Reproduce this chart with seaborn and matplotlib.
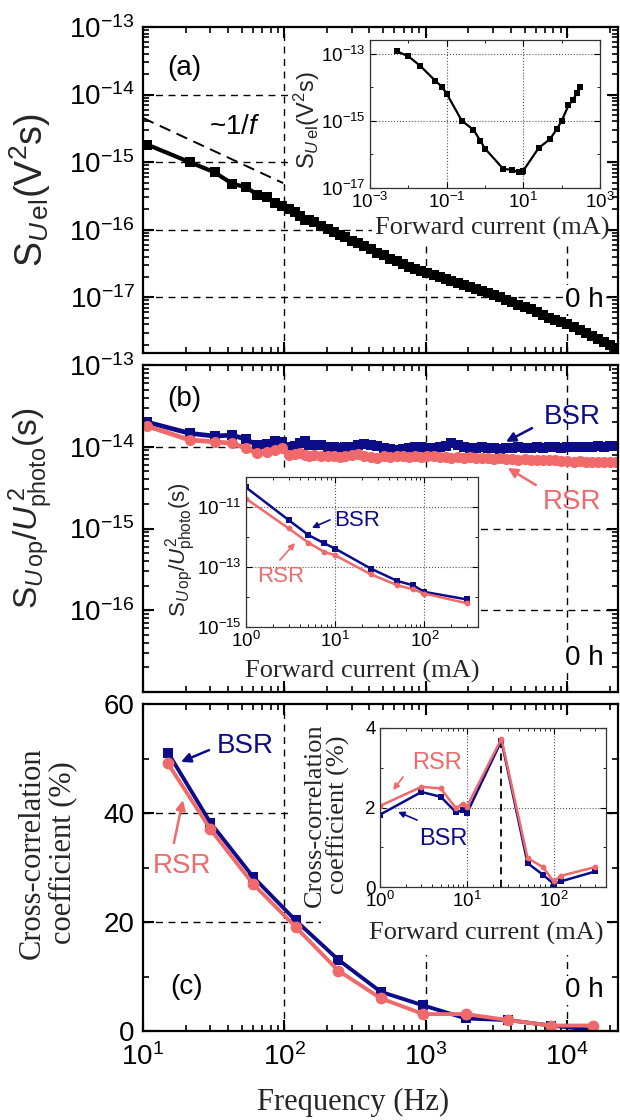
import numpy as np
import matplotlib
matplotlib.use("Agg")
import matplotlib.pyplot as plt
import seaborn as sns
from matplotlib.patches import Rectangle
from matplotlib.ticker import LogLocator, MultipleLocator, FuncFormatter, NullFormatter, FixedLocator

# ---------------- data ----------------
# noise spectra, frequency grid (Hz)
freq_hz = [10.7, 21.4, 32.1, 42.8, 53.5, 64.2, 74.9, 85.6, 96.3, 107,
           118, 128, 139, 150, 161, 182, 203, 225, 246, 268,
           300, 332, 364, 407, 450, 503, 557, 621, 685, 760,
           845, 931, 1028, 1135, 1253, 1381, 1520, 1680, 1852, 2044,
           2258, 2494, 2751, 3040, 3361, 3714, 4100, 4529, 5000, 5524,
           6102, 6744, 7451, 8232, 9098, 10050, 11100, 12260, 13550, 14970,
           16530, 18260, 20170, 22280]

# (a) electrical noise S_Uel (V^2 s)
s_uel = [1.82e-15, 1.00e-15, 7.08e-16, 4.79e-16, 4.27e-16, 3.31e-16, 3.02e-16, 2.45e-16, 2.21e-16, 2.04e-16,
         1.82e-16, 1.62e-16, 1.38e-16, 1.38e-16, 1.29e-16, 1.12e-16, 1.02e-16, 9.12e-17, 8.32e-17, 7.76e-17,
         6.92e-17, 6.31e-17, 5.75e-17, 5.13e-17, 4.57e-17, 4.17e-17, 3.72e-17, 3.39e-17, 3.09e-17, 2.82e-17,
         2.63e-17, 2.45e-17, 2.29e-17, 2.14e-17, 2.00e-17, 1.86e-17, 1.74e-17, 1.62e-17, 1.51e-17, 1.41e-17,
         1.32e-17, 1.23e-17, 1.15e-17, 1.07e-17, 1.00e-17, 9.12e-18, 8.51e-18, 7.76e-18, 7.24e-18, 6.61e-18,
         6.03e-18, 5.50e-18, 5.01e-18, 4.57e-18, 4.27e-18, 3.98e-18, 3.63e-18, 3.31e-18, 2.95e-18, 2.69e-18,
         2.40e-18, 2.19e-18, 1.95e-18, 1.78e-18]

# "~1/f" guide
guide_freq_hz = [10.0, 98.0]
guide_s = [4.5e-15, 4.9e-16]

# (b) normalised optical noise S_Uop / U_photo^2 (s)
s_op_bsr = [2.00e-14, 1.46e-14, 1.35e-14, 1.39e-14, 1.23e-14, 1.05e-14, 1.08e-14, 1.17e-14, 1.15e-14, 1.00e-14,
            1.02e-14, 1.12e-14, 1.17e-14, 1.05e-14, 1.04e-14, 1.05e-14, 9.9e-15, 9.8e-15, 9.6e-15, 9.8e-15,
            1.00e-14, 1.04e-14, 1.08e-14, 1.04e-14, 1.02e-14, 9.7e-15, 9.3e-15, 9.1e-15, 9.5e-15, 9.6e-15,
            9.8e-15, 1.00e-14, 9.7e-15, 9.6e-15, 9.8e-15, 1.02e-14, 1.10e-14, 1.05e-14, 9.8e-15, 9.6e-15,
            9.7e-15, 9.8e-15, 9.6e-15, 9.7e-15, 9.5e-15, 9.7e-15, 9.6e-15, 9.8e-15, 9.7e-15, 9.6e-15,
            9.8e-15, 9.7e-15, 9.9e-15, 9.8e-15, 9.7e-15, 9.9e-15, 1.00e-14, 9.8e-15, 9.9e-15, 1.00e-14,
            1.01e-14, 1.00e-14, 1.02e-14, 1.01e-14]
s_op_rsr = [1.79e-14, 1.21e-14, 1.15e-14, 1.10e-14, 9.6e-15, 8.3e-15, 8.7e-15, 9.1e-15, 9.6e-15, 7.9e-15,
            8.2e-15, 8.3e-15, 8.0e-15, 7.8e-15, 7.9e-15, 7.6e-15, 7.8e-15, 7.7e-15, 7.5e-15, 7.7e-15,
            7.9e-15, 8.1e-15, 7.6e-15, 7.5e-15, 7.3e-15, 7.6e-15, 7.4e-15, 7.7e-15, 7.6e-15, 7.5e-15,
            7.6e-15, 7.5e-15, 7.7e-15, 7.6e-15, 7.4e-15, 7.5e-15, 7.3e-15, 7.4e-15, 7.3e-15, 7.4e-15,
            7.2e-15, 7.3e-15, 7.2e-15, 7.1e-15, 7.2e-15, 7.0e-15, 7.1e-15, 6.9e-15, 7.0e-15, 6.9e-15,
            6.8e-15, 6.9e-15, 6.8e-15, 6.8e-15, 6.7e-15, 6.7e-15, 6.6e-15, 6.7e-15, 6.6e-15, 6.6e-15,
            6.5e-15, 6.6e-15, 6.5e-15, 6.5e-15]

# (c) cross-correlation coefficient (%)
cc_freq_hz = [15, 30, 60, 120, 240, 480, 960, 1920, 3840, 7680, 15360]
cc_bsr = [51.1, 38.2, 28.3, 20.3, 13.1, 7.2, 4.7, 2.3, 2.0, 1.0, 0.2]
cc_rsr = [49.1, 37.0, 27.0, 19.1, 11.1, 6.0, 3.1, 3.1, 2.0, 1.0, 1.0]

# inset (a): S_Uel vs forward current
ins_a_current_ma = [0.005, 0.01, 0.02, 0.05, 0.075, 0.1, 0.25, 0.5, 0.75, 1, 3, 5, 7.5, 9, 10,
                    25, 50, 75, 100, 150, 200, 250, 300]
ins_a_s_uel = [1.2e-13, 8.5e-14, 4.5e-14, 1.6e-14, 1.05e-14, 6.5e-15, 1.0e-15, 5.5e-16, 2.6e-16, 1.5e-16,
               3.7e-17, 3.5e-17, 2.95e-17, 3.1e-17, 3.3e-17, 1.55e-16, 2.9e-16, 5.75e-16, 1.0e-15,
               2.9e-15, 4.3e-15, 6.9e-15, 1.0e-14]

# inset (b): S_Uop/U_photo^2 vs forward current
ins_b_current_ma = [1, 3, 5, 7.5, 10, 25, 50, 75, 100, 300]
ins_b_bsr = [4.5e-11, 3.7e-12, 1.17e-12, 6.2e-13, 4.1e-13, 8.9e-14, 3.4e-14, 2.45e-14, 1.48e-14, 8.3e-15]
ins_b_rsr = [1.9e-11, 1.95e-12, 6.5e-13, 3.2e-13, 2.45e-13, 5.75e-14, 2.45e-14, 1.8e-14, 1.3e-14, 6.2e-15]

# inset (c): cross-correlation vs forward current
ins_c_current_ma = [1, 3, 5, 7.5, 9, 10, 25, 50, 75, 100, 120, 300]
ins_c_bsr = [1.82, 2.39, 2.27, 1.88, 1.93, 1.85, 3.68, 0.60, 0.31, 0.08, 0.14, 0.39]
ins_c_rsr = [2.04, 2.52, 2.48, 1.98, 2.10, 2.02, 3.73, 0.73, 0.50, 0.14, 0.28, 0.50]

# ---------------- style ----------------
BSR_COLOR = "#0c0c88"
RSR_COLOR = "#f0696b"
SERIF = ["Liberation Serif", "DejaVu Serif"]

sns.set_theme(style="ticks")
plt.rcParams.update({
    "font.family": ["Liberation Sans", "DejaVu Sans"],
    "mathtext.fontset": "custom",
    "mathtext.rm": "Liberation Sans",
    "mathtext.it": "Liberation Sans:italic",
    "mathtext.bf": "Liberation Sans:bold",
    "axes.edgecolor": "black",
    "axes.linewidth": 1.6,
    "axes.axisbelow": "line",
    "xtick.color": "black",
    "ytick.color": "black",
    "text.color": "black",
})

W, H = 620, 1120
fig = plt.figure(figsize=(W / 100, H / 100), dpi=100)


def frame(l, t, r, b):
    return [l / W, 1 - b / H, (r - l) / W, (b - t) / H]


def decade_label(v, pos):
    return r"$\mathdefault{10^{%d}}$" % int(round(np.log10(v)))


ax_a = fig.add_axes(frame(143, 27, 618, 353))
ax_b = fig.add_axes(frame(143, 365, 618, 692))
ax_c = fig.add_axes(frame(143, 704, 618, 1031))
in_a = fig.add_axes(frame(370, 40, 600, 188))
in_b = fig.add_axes(frame(246, 477, 478, 627))
in_c = fig.add_axes(frame(380, 728, 606, 887))

F_LO, F_HI = 10, 2.29e4


def style_main(ax):
    ax.set_xscale("log")
    ax.set_xlim(F_LO, F_HI)
    ax.xaxis.set_major_locator(LogLocator(base=10, numticks=20))
    ax.xaxis.set_minor_locator(LogLocator(base=10, subs=np.arange(2, 10), numticks=100))
    ax.xaxis.set_minor_formatter(NullFormatter())
    ax.tick_params(which="both", direction="in", top=True, right=True, labelsize=20, pad=6)
    ax.tick_params(which="major", length=8, width=1.5)
    ax.tick_params(which="minor", length=4, width=1.2)
    for s in ax.spines.values():
        s.set_linewidth(1.6)
    ax.set_xlabel("")
    ax.set_ylabel("")


def blank(ax, boxes):
    for (l, t, r, b) in boxes:
        ax.add_patch(Rectangle((l / W, 1 - b / H), (r - l) / W, (b - t) / H,
                               transform=fig.transFigure, facecolor="white",
                               edgecolor="none", zorder=1.0))


def dashed_grid(ax, xs, ys):
    for x in xs:
        ax.axvline(x, color="black", lw=1.0, ls=(0, (5, 4)), zorder=0.8)
    for y in ys:
        ax.axhline(y, color="black", lw=1.0, ls=(0, (5, 4)), zorder=0.8)


def tag(ax, x, y, s, size=20, **kw):
    ax.text(x, y, s, transform=ax.transAxes, ha="center", va="center", fontsize=size, **kw)


def arrow(ax, start, tip, color, lw=1.8, scale=14):
    ax.annotate("", xy=tip, xytext=start, xycoords="axes fraction", textcoords="axes fraction",
                arrowprops=dict(arrowstyle="-|>", color=color, lw=lw, mutation_scale=scale,
                                shrinkA=0, shrinkB=0))


# ---------------- panel (a) ----------------
style_main(ax_a)
ax_a.set_yscale("log")
ax_a.set_ylim(1.5e-18, 1e-13)
ax_a.yaxis.set_major_locator(LogLocator(base=10, numticks=20))
ax_a.yaxis.set_minor_locator(LogLocator(base=10, subs=np.arange(2, 10), numticks=100))
ax_a.yaxis.set_major_formatter(FuncFormatter(decade_label))
ax_a.yaxis.set_minor_formatter(NullFormatter())
ax_a.tick_params(labelbottom=False)
sns.lineplot(x=freq_hz, y=s_uel, ax=ax_a, color="black", lw=3.0, marker="s", markersize=7,
             markeredgewidth=0, zorder=2)
ax_a.plot(guide_freq_hz, guide_s, color="black", lw=1.4, ls=(0, (6, 3.5)), zorder=2)
dashed_grid(ax_a, [1e2, 1e3, 1e4], [1e-14, 1e-15, 1e-16, 1e-17])
blank(ax_a, [(288, 36, 609, 213), (372, 213, 609, 244)])
ax_a.set_ylabel(r"S$_{\mathit{U}\,\mathrm{el}}$(V$^2$s)", fontsize=27)
ax_a.yaxis.set_label_coords(-0.19, 0.5)
tag(ax_a, 0.088, 0.874, "(a)")
tag(ax_a, 0.194, 0.693, r"~1/$\mathit{f}$")
tag(ax_a, 0.930, 0.163, "0 h", zorder=1.2,
    bbox=dict(facecolor="white", edgecolor="none", pad=1))

# ---------------- panel (b) ----------------
style_main(ax_b)
ax_b.set_yscale("log")
ax_b.set_ylim(1e-17, 1e-13)
ax_b.yaxis.set_major_locator(LogLocator(base=10, numticks=20))
ax_b.yaxis.set_minor_locator(LogLocator(base=10, subs=np.arange(2, 10), numticks=100))
ax_b.yaxis.set_major_formatter(FuncFormatter(lambda v, p: "" if v < 1.5e-17 else decade_label(v, p)))
ax_b.yaxis.set_minor_formatter(NullFormatter())
ax_b.tick_params(labelbottom=False)
sns.lineplot(x=freq_hz, y=s_op_bsr, ax=ax_b, color=BSR_COLOR, lw=3.4, marker="s", markersize=7,
             markeredgewidth=0, zorder=2)
sns.lineplot(x=freq_hz, y=s_op_rsr, ax=ax_b, color=RSR_COLOR, lw=3.4, marker="o", markersize=8,
             markeredgewidth=0, zorder=2.1)
dashed_grid(ax_b, [1e2, 1e3, 1e4], [1e-14, 1e-15, 1e-16])
blank(ax_b, [(153, 470, 480, 683)])
ax_b.set_ylabel(r"S$_{\mathit{U}\,\mathrm{op}}$/$\mathit{U}^{\,2}_{\mathrm{photo}}$(s)", fontsize=24)
ax_b.yaxis.set_label_coords(-0.185, 0.563)
tag(ax_b, 0.903, 0.841, "BSR", color=BSR_COLOR)
tag(ax_b, 0.903, 0.581, "RSR", color=RSR_COLOR)
tag(ax_b, 0.088, 0.896, "(b)")
arrow(ax_b, (0.819, 0.807), (0.764, 0.765), BSR_COLOR)
arrow(ax_b, (0.827, 0.633), (0.768, 0.685), RSR_COLOR)
tag(ax_b, 0.930, 0.104, "0 h", zorder=1.2,
    bbox=dict(facecolor="white", edgecolor="none", pad=1))

# ---------------- panel (c) ----------------
style_main(ax_c)
ax_c.set_ylim(0, 60)
ax_c.yaxis.set_major_locator(MultipleLocator(20))
ax_c.yaxis.set_minor_locator(MultipleLocator(10))
ax_c.xaxis.set_major_formatter(FuncFormatter(decade_label))
ax_c.tick_params(axis="x", pad=9)
sns.lineplot(x=cc_freq_hz, y=cc_bsr, ax=ax_c, color=BSR_COLOR, lw=2.8, marker="s", markersize=7.5,
             markeredgewidth=0, zorder=2)
sns.lineplot(x=cc_freq_hz, y=cc_rsr, ax=ax_c, color=RSR_COLOR, lw=2.8, marker="o", markersize=8.5,
             markeredgewidth=0, zorder=2.1)
dashed_grid(ax_c, [1e2, 1e3, 1e4], [20, 40])
blank(ax_c, [(288, 713, 609, 900), (321, 900, 609, 955)])
ax_c.set_xlabel("Frequency (Hz)", family=SERIF, fontsize=22)
ax_c.xaxis.set_label_coords(0.442, -0.174)
ax_c.set_ylabel("Cross-correlation\ncoefficient (%)", family=SERIF, fontsize=22, linespacing=1.05)
ax_c.yaxis.set_label_coords(-0.139, 0.544)
tag(ax_c, 0.215, 0.872, "BSR", color=BSR_COLOR)
tag(ax_c, 0.082, 0.505, "RSR", color=RSR_COLOR)
arrow(ax_c, (0.139, 0.859), (0.080, 0.823), BSR_COLOR)
arrow(ax_c, (0.065, 0.575), (0.084, 0.706), RSR_COLOR)
tag(ax_c, 0.091, 0.135, "(c)")
tag(ax_c, 0.930, 0.125, "0 h", zorder=1.2,
    bbox=dict(facecolor="white", edgecolor="none", pad=1))


# ---------------- insets ----------------
def style_inset(ax):
    ax.set_facecolor("white")
    for s in ax.spines.values():
        s.set_linewidth(0.9)
        s.set_color("#333333")
    ax.tick_params(which="both", direction="in", top=True, right=True, labelsize=13.5, pad=3)
    ax.tick_params(which="major", length=4, width=0.8)
    ax.tick_params(which="minor", length=2, width=0.6)
    ax.grid(True, which="major", ls=":", lw=0.8, color="#555555")
    ax.set_axisbelow(True)


# inset (a)
style_inset(in_a)
in_a.set_xscale("log")
in_a.set_yscale("log")
in_a.set_xlim(1e-3, 1e3)
in_a.set_ylim(1e-17, 2.6e-13)
in_a.xaxis.set_major_locator(FixedLocator([1e-3, 1e-1, 1e1, 1e3]))
in_a.xaxis.set_minor_locator(FixedLocator([1e-2, 1e0, 1e2]))
in_a.yaxis.set_major_locator(FixedLocator([1e-17, 1e-15, 1e-13]))
in_a.yaxis.set_minor_locator(FixedLocator([1e-16, 1e-14]))
for axis in (in_a.xaxis, in_a.yaxis):
    axis.set_major_formatter(FuncFormatter(decade_label))
    axis.set_minor_formatter(NullFormatter())
sns.lineplot(x=ins_a_current_ma, y=ins_a_s_uel, ax=in_a, color="black", lw=1.6, marker="s",
             markersize=4, markeredgewidth=0)
in_a.set_xlabel("Forward current (mA)", family=SERIF, fontsize=19)
in_a.xaxis.set_label_coords(0.53, -0.196)
in_a.set_ylabel(r"S$_{\mathit{U}\,\mathrm{el}}$(V$^2$s)", fontsize=17)
in_a.yaxis.set_label_coords(-0.21, 0.46)

# inset (b)
style_inset(in_b)
in_b.set_xscale("log")
in_b.set_yscale("log")
in_b.set_xlim(1, 400)
in_b.set_ylim(1e-15, 1e-10)
in_b.xaxis.set_major_locator(LogLocator(base=10, numticks=10))
in_b.xaxis.set_minor_locator(LogLocator(base=10, subs=np.arange(2, 10), numticks=100))
in_b.yaxis.set_major_locator(FixedLocator([1e-15, 1e-13, 1e-11]))
in_b.yaxis.set_minor_locator(FixedLocator([1e-14, 1e-12]))
for axis in (in_b.xaxis, in_b.yaxis):
    axis.set_major_formatter(FuncFormatter(decade_label))
    axis.set_minor_formatter(NullFormatter())
sns.lineplot(x=ins_b_current_ma, y=ins_b_bsr, ax=in_b, color=BSR_COLOR, lw=1.8, marker="s",
             markersize=3.8, markeredgewidth=0)
sns.lineplot(x=ins_b_current_ma, y=ins_b_rsr, ax=in_b, color=RSR_COLOR, lw=1.8, marker="o",
             markersize=4.2, markeredgewidth=0)
in_b.set_xlabel("Forward current (mA)", family=SERIF, fontsize=19)
in_b.xaxis.set_label_coords(0.5, -0.22)
in_b.set_ylabel(r"S$_{\mathit{U}\,\mathrm{op}}$/$\mathit{U}^{2}_{\mathrm{photo}}$(s)", fontsize=16)
in_b.yaxis.set_label_coords(-0.207, 0.513)
tag(in_b, 0.478, 0.708, "BSR", size=16, color=BSR_COLOR)
tag(in_b, 0.151, 0.339, "RSR", size=16, color=RSR_COLOR)
arrow(in_b, (0.362, 0.714), (0.284, 0.661), BSR_COLOR, lw=1.2, scale=9)
arrow(in_b, (0.146, 0.446), (0.211, 0.560), RSR_COLOR, lw=1.2, scale=9)

# inset (c)
style_inset(in_c)
in_c.set_xscale("log")
in_c.set_xlim(1, 400)
in_c.set_ylim(0, 4)
in_c.xaxis.set_major_locator(LogLocator(base=10, numticks=10))
in_c.xaxis.set_minor_locator(LogLocator(base=10, subs=np.arange(2, 10), numticks=100))
in_c.xaxis.set_major_formatter(FuncFormatter(decade_label))
in_c.xaxis.set_minor_formatter(NullFormatter())
in_c.yaxis.set_major_locator(MultipleLocator(2))
in_c.yaxis.set_minor_locator(MultipleLocator(1))
peak = int(np.argmax(ins_c_bsr))
in_c.vlines(ins_c_current_ma[peak], 0, ins_c_bsr[peak], colors="black", lw=1.3,
            linestyles=(0, (4, 3)), zorder=1.5)
sns.lineplot(x=ins_c_current_ma, y=ins_c_bsr, ax=in_c, color=BSR_COLOR, lw=1.8, marker="s",
             markersize=3.8, markeredgewidth=0, zorder=2)
sns.lineplot(x=ins_c_current_ma, y=ins_c_rsr, ax=in_c, color=RSR_COLOR, lw=1.8, marker="o",
             markersize=4.2, markeredgewidth=0, zorder=2.1)
in_c.set_xlabel("Forward current (mA)", family=SERIF, fontsize=19)
in_c.xaxis.set_label_coords(0.469, -0.22)
in_c.set_ylabel("Cross-correlation\ncoefficient (%)", family=SERIF, fontsize=19, linespacing=1.05)
in_c.yaxis.set_label_coords(-0.133, 0.453)
tag(in_c, 0.252, 0.780, "RSR", size=17, color=RSR_COLOR)
tag(in_c, 0.279, 0.302, "BSR", size=17, color=BSR_COLOR)
arrow(in_c, (0.102, 0.692), (0.058, 0.610), RSR_COLOR, lw=1.2, scale=9)
arrow(in_c, (0.164, 0.421), (0.080, 0.472), BSR_COLOR, lw=1.2, scale=9)

for ax in (in_a, in_b, in_c):
    leg = ax.get_legend()
    if leg is not None:
        leg.remove()

fig.savefig("out.png", dpi=100, facecolor="white")
